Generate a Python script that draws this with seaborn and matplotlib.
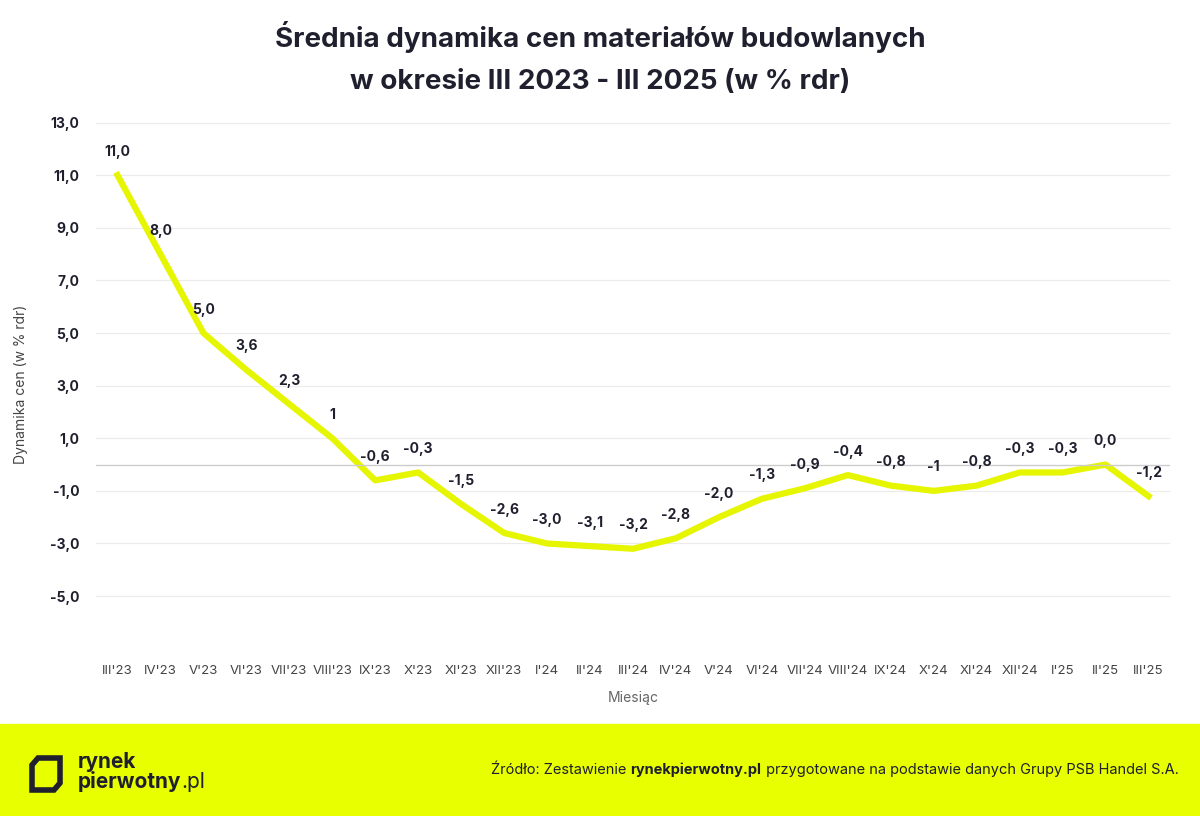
import matplotlib
matplotlib.use("Agg")
import matplotlib.pyplot as plt
import seaborn as sns
import pandas as pd
from matplotlib.patches import Rectangle, Polygon

plt.rcParams["font.family"] = "Inter"

months = ["III'23", "IV'23", "V'23", "VI'23", "VII'23", "VIII'23", "IX'23", "X'23", "XI'23", "XII'23",
          "I'24", "II'24", "III'24", "IV'24", "V'24", "VI'24", "VII'24", "VIII'24", "IX'24", "X'24",
          "XI'24", "XII'24", "I'25", "II'25", "III'25"]
values = [11.0, 8.0, 5.0, 3.6, 2.3, 1.0, -0.6, -0.3, -1.5, -2.6, -3.0, -3.1, -3.2, -2.8, -2.0,
          -1.3, -0.9, -0.4, -0.8, -1.0, -0.8, -0.3, -0.3, 0.0, -1.2]
labels = ["11,0", "8,0", "5,0", "3,6", "2,3", "1", "-0,6", "-0,3", "-1,5", "-2,6", "-3,0", "-3,1",
          "-3,2", "-2,8", "-2,0", "-1,3", "-0,9", "-0,4", "-0,8", "-1", "-0,8", "-0,3", "-0,3",
          "0,0", "-1,2"]
yticks = [-5, -3, -1, 1, 3, 5, 7, 9, 11, 13]

df = pd.DataFrame({"x": range(len(months)), "y": values})

fig = plt.figure(figsize=(12, 8.16), dpi=100)
ax = fig.add_axes([0.08, 0.205, 0.895, 0.648])
sns.lineplot(data=df, x="x", y="y", ax=ax, color="#e6f500", linewidth=4.5)

for i, (v, t) in enumerate(zip(values, labels)):
    ax.annotate(t, (i, v), xytext=(0, 14), textcoords="offset points", ha="center",
                fontsize=10, fontweight="bold", color="#1f1f2e")

ax.set_xlim(-0.5, len(months) - 0.5)
ax.set_ylim(-7.0, 13.1)
ax.set_yticks(yticks)
ax.set_yticklabels([f"{t},0" for t in yticks], fontsize=10, fontweight="bold", color="#1f1f2e")
ax.set_xticks(range(len(months)))
ax.set_xticklabels(months, fontsize=9.5, color="#444444")
ax.grid(axis="y", color="#ebebeb", linewidth=0.8)
ax.axhline(0, color="#cccccc", linewidth=1)
ax.tick_params(length=0, pad=12)
for s in ax.spines.values():
    s.set_visible(False)
ax.set_xlabel("Miesiąc", fontsize=10, color="#666666", labelpad=10)
ax.set_ylabel("Dynamika cen (w % rdr)", fontsize=10, color="#444444", labelpad=16)

fig.text(0.5, 0.955, "Średnia dynamika cen materiałów budowlanych", ha="center", va="center",
         fontsize=20, fontweight="bold", color="#1f1f2e")
fig.text(0.5, 0.9, "w okresie III 2023 - III 2025 (w % rdr)", ha="center", va="center",
         fontsize=20, fontweight="bold", color="#1f1f2e")

# footer
fig.patches.append(Rectangle((0, 0), 1, 92 / 816, transform=fig.transFigure, color="#e8ff00", zorder=0))
fig.patches.append(Polygon([(32 / 1200, 1 - 790 / 816), (32 / 1200, 1 - 765 / 816), (38 / 1200, 1 - 758 / 816),
                            (60 / 1200, 1 - 758 / 816), (60 / 1200, 1 - 783 / 816), (54 / 1200, 1 - 790 / 816)],
                           closed=True, fill=False, edgecolor="#1f1f2e", linewidth=4,
                           transform=fig.transFigure))
fig.text(78 / 1200, 1 - 762 / 816, "rynek", fontsize=15, fontweight="bold", color="#1f1f2e", va="center")
pw = fig.text(78 / 1200, 1 - 782 / 816, "pierwotny", fontsize=15, fontweight="bold", color="#1f1f2e", va="center")

# right-aligned source line built from three pieces
r = fig.canvas.get_renderer()
t3 = fig.text(0.982, 1 - 770 / 816, " przygotowane na podstawie danych Grupy PSB Handel S.A.",
              ha="right", va="center", fontsize=10.5, color="#1f1f2e")
x3 = t3.get_window_extent(r).x0 / 1200
t2 = fig.text(x3, 1 - 770 / 816, "rynekpierwotny.pl", ha="right", va="center", fontsize=10.5,
              fontweight="bold", color="#1f1f2e")
x2 = t2.get_window_extent(r).x0 / 1200
fig.text(x2, 1 - 770 / 816, "Źródło: Zestawienie ", ha="right", va="center", fontsize=10.5, color="#1f1f2e")

xp = pw.get_window_extent(r).x1 / 1200
fig.text(xp, 1 - 782 / 816, ".pl", fontsize=15, color="#1f1f2e", va="center")

fig.savefig("out.png", dpi=100)
